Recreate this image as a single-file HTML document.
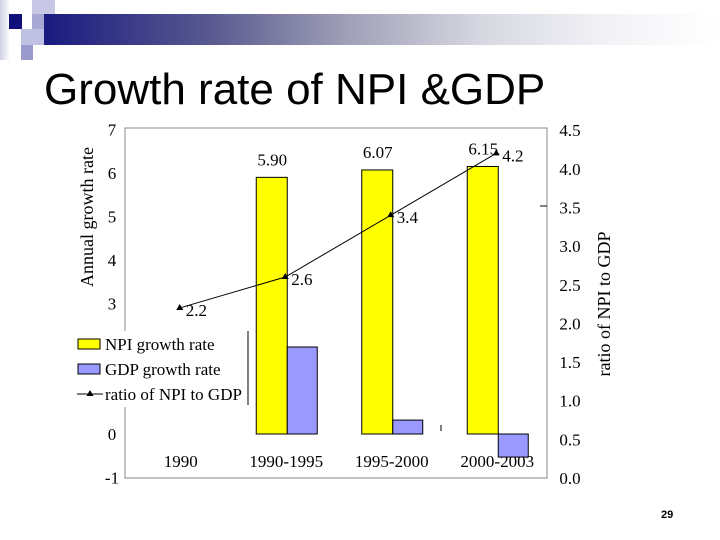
<!DOCTYPE html>
<html><head><meta charset="utf-8"><style>
body{margin:0;width:720px;height:540px;overflow:hidden;background:#fff;position:relative;font-family:"Liberation Sans",sans-serif}
.abs{position:absolute}
</style></head><body>
<div class="abs" style="left:44px;top:14px;width:676px;height:31px;background:linear-gradient(90deg,#1a1a80 0%,#5a5a90 25%,#a0a0b8 45%,#d8d8e2 65%,#f4f4f8 85%,#fff 100%)"></div>
<div class="abs" style="left:32px;top:0;width:23px;height:14px;background:#c8c8e6"></div>
<div class="abs" style="left:0;top:0;width:10px;height:60px;background:linear-gradient(90deg,#d0d0e6,#fff)"></div>
<div class="abs" style="left:9px;top:14px;width:13px;height:15px;background:#10107a"></div>
<div class="abs" style="left:32px;top:14px;width:12px;height:15px;background:#a8a8d4"></div>
<div class="abs" style="left:21px;top:29px;width:23px;height:16px;background:#c0c0e2"></div>
<div class="abs" style="left:21px;top:45px;width:12px;height:15px;background:#9a9acc"></div>
<div class="abs" style="left:44px;top:65px;font-size:44px;color:#000;white-space:nowrap">Growth rate of NPI &amp;GDP</div>
<div class="abs" style="left:661px;top:509px;font-size:11px;font-weight:bold">29</div>
<svg class="abs" style="left:0;top:0" width="720" height="540" font-family="Liberation Serif, serif" font-size="17">
<g id="g"></g>
</svg>
<script>
const categories=["1990","1990-1995","1995-2000","2000-2003"];
const npiGrowth=[null,5.90,6.07,6.15];
const npiLabels=["","5.90","6.07","6.15"];
const gdpGrowth=[null,2.0,0.32,-0.53];
const ratio=[2.2,2.6,3.4,4.2];
const leftTicks=[-1,0,1,2,3,4,5,6,7];
const rightTicks=["0.0","0.5","1.0","1.5","2.0","2.5","3.0","3.5","4.0","4.5"];
const NS="http://www.w3.org/2000/svg";
const g=document.getElementById('g');
const L=125,R=547,T=128,B=478;
const yL=v=>434-(v)*43.5;
const yR=v=>478-v*77.3;
const cw=(R-L)/categories.length;
const xc=i=>L+cw*(i+0.5);
function mk(t,a){const e=document.createElementNS(NS,t);for(const k in a)e.setAttribute(k,a[k]);g.appendChild(e);return e;}
let e=mk('rect',{x:L,y:T,width:R-L,height:B-T,fill:'none',stroke:'#888','stroke-width':1});

leftTicks.forEach(v=>{const t=mk('text',{x:112,y:yL(v)+6,'text-anchor':'middle'});t.textContent=v;
});
rightTicks.forEach(v=>{const t=mk('text',{x:570,y:yR(+v)+6,'text-anchor':'middle'});t.textContent=v;
});
categories.forEach((c,i)=>{
 const t=mk('text',{x:xc(i)+3,y:467,'text-anchor':'middle'});t.textContent=c;
 
 if(npiGrowth[i]!=null){const y=yL(npiGrowth[i]);
  const r=mk('rect',{x:xc(i)-27,y:y,width:31,height:yL(0)-y,fill:'#ffff00',stroke:'#000','stroke-width':1});
  
  const l=mk('text',{x:xc(i)-11,y:y-12,'text-anchor':'middle'});l.textContent=npiLabels[i];
  }
 if(gdpGrowth[i]!=null){const y0=yL(Math.max(gdpGrowth[i],0)),y1=yL(Math.min(gdpGrowth[i],0));
  const r=mk('rect',{x:xc(i)+4,y:y0,width:30,height:y1-y0,fill:'#9999ff',stroke:'#000','stroke-width':1});
  }
});
const pts=ratio.map((v,i)=>[xc(i)+2,yR(v)]);
e=mk('polyline',{points:pts.map(p=>p.join(',')).join(' '),fill:'none',stroke:'#000','stroke-width':1});

pts.forEach((p,i)=>{const m=mk('path',{d:`M${p[0]},${p[1]-4}L${p[0]+3.5},${p[1]+2}L${p[0]-3.5},${p[1]+2}Z`,fill:'#000'});
 
 const t=mk('text',{x:p[0]+6,y:p[1]+8});t.textContent=ratio[i].toFixed(1);
 });
e=mk('line',{x1:540,y1:206,x2:547,y2:206,stroke:'#000'});
e=mk('line',{x1:441,y1:425,x2:441,y2:431,stroke:'#000'});
// legend
e=mk('rect',{x:74,y:331,width:174,height:76,fill:'#fff'});
e=mk('line',{x1:248,y1:331,x2:248,y2:405,stroke:'#000'});
e=mk('rect',{x:78,y:339,width:22,height:10,fill:'#ffff00',stroke:'#000'});
e=mk('rect',{x:78,y:364,width:22,height:10,fill:'#9999ff',stroke:'#000'});
e=mk('line',{x1:77,y1:394,x2:103,y2:394,stroke:'#000'});
e=mk('path',{d:'M90,390L93.5,396L86.5,396Z',fill:'#000'});
[["NPI growth rate",350],["GDP growth rate",375],["ratio of NPI to GDP",400]].forEach(a=>{const t=mk('text',{x:105,y:a[1]});t.textContent=a[0];
 });
e=mk('text',{x:0,y:0,transform:'translate(93,217) rotate(-90)','text-anchor':'middle','font-size':18});e.textContent='Annual growth rate';

e=mk('text',{x:0,y:0,transform:'translate(610,304) rotate(-90)','text-anchor':'middle','font-size':18});e.textContent='ratio of NPI to GDP';

</script>
</body></html>
